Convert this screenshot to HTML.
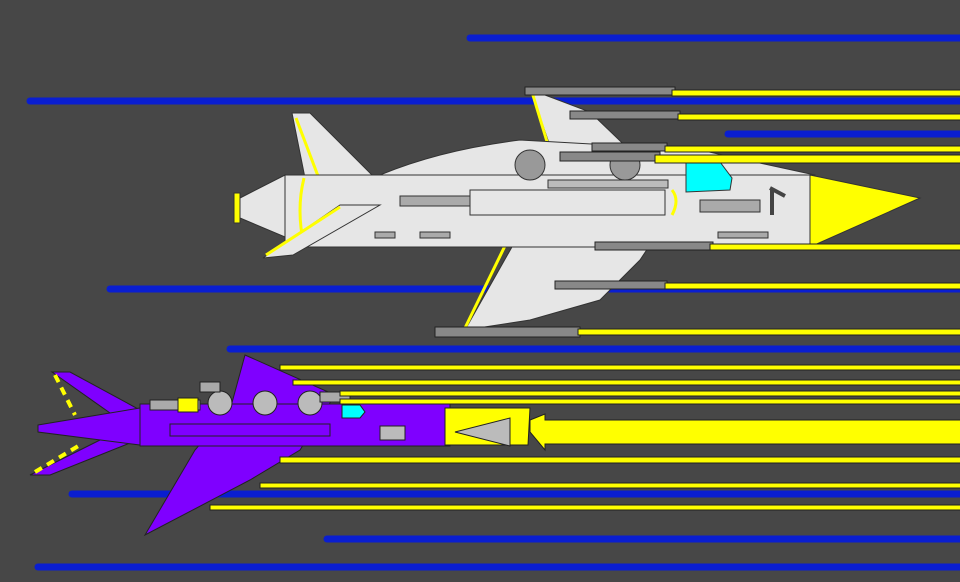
<!DOCTYPE html>
<html><head><meta charset="utf-8"><style>html,body{margin:0;padding:0;background:#474747}svg{display:block}</style></head>
<body>
<svg width="960" height="582" viewBox="0 0 960 582" xmlns="http://www.w3.org/2000/svg">
<rect width="960" height="582" fill="#474747"/>
<g stroke-width="7" stroke-linecap="round" stroke="#0a1ed0">
<line x1="470" y1="38" x2="962" y2="38"/>
<line x1="30" y1="101" x2="962" y2="101"/>
<line x1="728" y1="134" x2="962" y2="134"/>
<line x1="110" y1="289" x2="962" y2="289"/>
<line x1="230" y1="349" x2="962" y2="349"/>
<line x1="72" y1="494" x2="962" y2="494"/>
<line x1="327" y1="539" x2="962" y2="539"/>
<line x1="38" y1="567" x2="962" y2="567"/>
</g>
<!-- TOP SHIP -->
<g stroke="#333" stroke-width="1">
<polygon points="530,88 545,95 590,112 640,160 660,175 560,175" fill="#e6e6e6"/>
<line x1="532" y1="92" x2="548" y2="145" stroke="#ff0" stroke-width="3"/>
<polygon points="465,330 530,215 670,215 640,260 600,300 530,320" fill="#e6e6e6"/>
<line x1="465" y1="328" x2="520" y2="215" stroke="#ff0" stroke-width="3"/>
<polygon points="292,113 310,113 375,178 305,178" fill="#e6e6e6"/>
<line x1="296" y1="118" x2="318" y2="176" stroke="#ff0" stroke-width="3"/>
<polygon points="240,198 285,175 285,237 240,218" fill="#e6e6e6"/>
<rect x="234" y="193" width="6" height="30" fill="#ff0"/>
<rect x="285" y="175" width="530" height="72" fill="#e6e6e6"/>
<path d="M380,175 Q440,150 520,140 L700,150 L815,175 Z" fill="#e6e6e6"/>
<polygon points="810,175 920,198 810,247" fill="#ff0"/>
<path d="M686,162 L720,162 L732,178 L730,190 L686,192 Z" fill="#0ff"/>
<rect x="470" y="190" width="195" height="25" fill="#e6e6e6"/>
<path d="M304,178 Q296,210 304,245" fill="none" stroke="#ff0" stroke-width="3"/>
<path d="M672,190 Q680,200 672,215" fill="none" stroke="#ff0" stroke-width="3"/>
<polygon points="263,258 340,205 380,205 293,255" fill="#e6e6e6"/>
<line x1="266" y1="255" x2="340" y2="207" stroke="#ff0" stroke-width="3"/>
<rect x="400" y="196" width="70" height="10" fill="#aaa"/>
<rect x="700" y="200" width="60" height="12" fill="#aaa"/>
<rect x="548" y="180" width="120" height="8" fill="#bbb"/>
<circle cx="530" cy="165" r="15" fill="#999"/>
<circle cx="625" cy="165" r="15" fill="#999"/>
<rect x="375" y="232" width="20" height="6" fill="#aaa"/><rect x="420" y="232" width="30" height="6" fill="#aaa"/>
<rect x="718" y="232" width="50" height="6" fill="#aaa"/>
<path d="M770,188 L785,196 M772,188 L772,215" stroke="#444" stroke-width="4"/>
</g>
<g stroke="#222" stroke-width="1" fill="#888">
<rect x="525" y="87" width="150" height="8"/><rect x="570" y="111" width="110" height="8"/>
<rect x="592" y="143" width="75" height="8"/><rect x="560" y="152" width="100" height="9"/>
<rect x="595" y="242" width="118" height="8"/><rect x="555" y="281" width="112" height="8"/>
<rect x="435" y="327" width="145" height="10"/>
</g>
<g fill="#ff0" stroke="#222" stroke-width="1">
<rect x="672" y="90" width="290" height="6"/><rect x="678" y="114" width="290" height="6"/>
<rect x="665" y="146" width="300" height="6"/><rect x="655" y="155" width="310" height="8"/>
<rect x="710" y="244" width="260" height="6"/><rect x="665" y="283" width="300" height="6"/>
<rect x="578" y="329" width="390" height="6"/>
</g>
<!-- BOTTOM SHIP -->
<g stroke="#222" stroke-width="1">
<polygon points="245,355 335,395 300,450 250,480 145,535 195,450 230,410" fill="#7f00ff"/>
<polygon points="52,372 70,372 140,410 120,420" fill="#7f00ff"/>
<line x1="55" y1="375" x2="75" y2="415" stroke="#ff0" stroke-width="4" stroke-dasharray="8,6"/>
<polygon points="30,475 110,435 150,435 50,475" fill="#7f00ff"/>
<line x1="35" y1="472" x2="80" y2="445" stroke="#ff0" stroke-width="4" stroke-dasharray="8,6"/>
<polygon points="38,425 140,408 140,445 38,432" fill="#7f00ff"/>
<rect x="140" y="404" width="310" height="42" fill="#7f00ff"/>
<rect x="150" y="400" width="50" height="10" fill="#aaa"/><rect x="178" y="398" width="20" height="14" fill="#ff0"/>
<polygon points="445,408 530,408 528,445 445,445" fill="#ff0"/>
<polygon points="455,432 510,418 510,446" fill="#bbb"/>
<path d="M342,405 L360,405 L365,412 L360,418 L342,418 Z" fill="#0ff"/>
<circle cx="220" cy="403" r="12" fill="#bbb"/><circle cx="265" cy="403" r="12" fill="#bbb"/><circle cx="310" cy="403" r="12" fill="#bbb"/>
<rect x="200" y="382" width="20" height="10" fill="#aaa"/><rect x="320" y="392" width="30" height="10" fill="#aaa"/>
<rect x="170" y="424" width="160" height="12" fill="#7f00ff"/>
<rect x="380" y="426" width="25" height="14" fill="#bbb"/>
</g>
<g fill="#ff0" stroke="#222" stroke-width="1">
<rect x="280" y="365" width="690" height="5"/><rect x="293" y="380" width="680" height="5"/>
<rect x="340" y="391" width="630" height="5"/><rect x="340" y="399" width="630" height="5"/>
<polygon points="530,420 545,414 545,420 962,420 962,444 545,444 545,450 530,432"/>
<rect x="280" y="457" width="690" height="6"/><rect x="260" y="483" width="710" height="5"/>
<rect x="210" y="505" width="760" height="5"/>
</g>
</svg>
</body></html>
